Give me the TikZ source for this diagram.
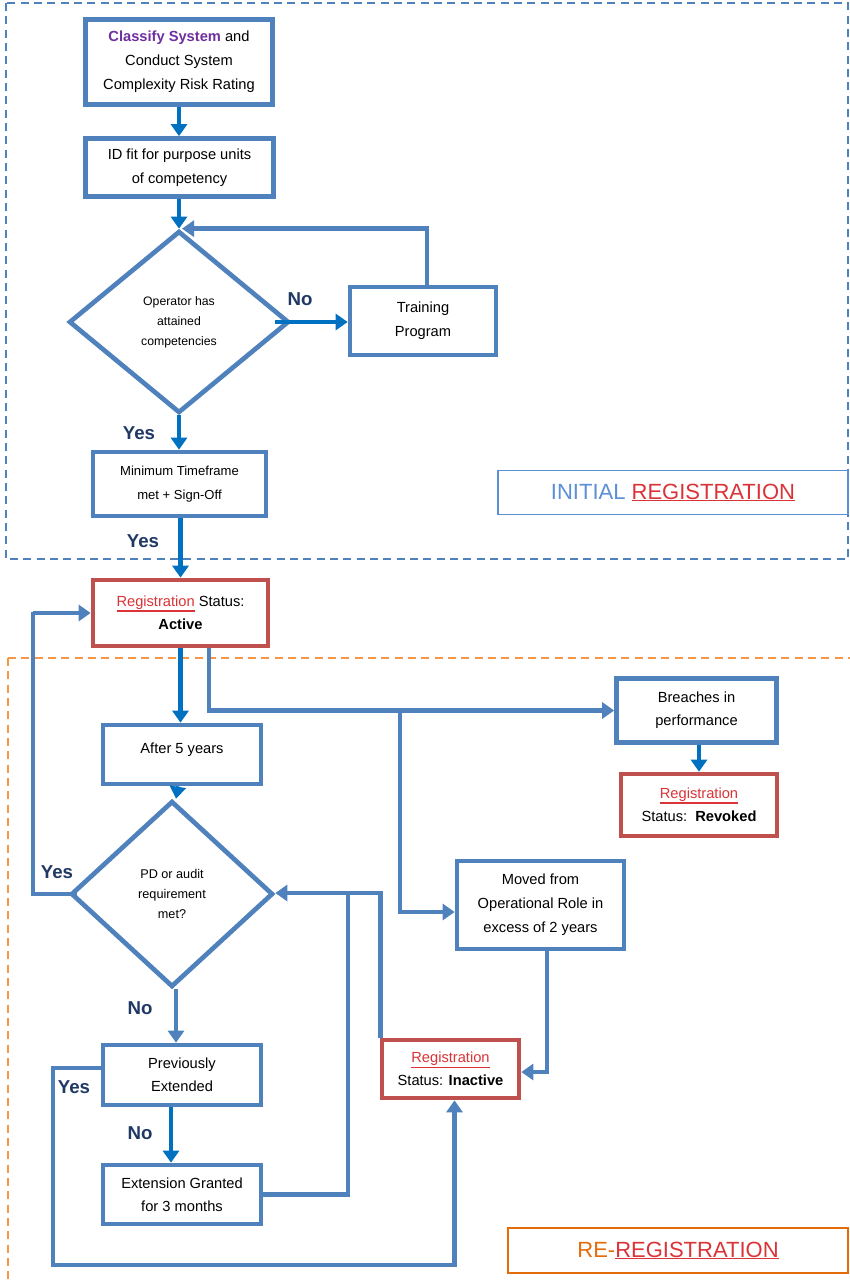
\documentclass[tikz,border=0pt]{standalone}
\usepackage{fontspec}
\setmainfont{Liberation Sans}
\usetikzlibrary{arrows.meta,shapes.geometric}
\definecolor{bxblue}{HTML}{4F81BD}
\definecolor{arblue}{HTML}{0070C0}
\definecolor{navy}{HTML}{1F3864}
\definecolor{bxred}{HTML}{C0504D}
\definecolor{txred}{HTML}{DA3338}
\definecolor{purp}{HTML}{7030A0}
\definecolor{lblue}{HTML}{5B8FD6}
\definecolor{orng}{HTML}{E46C0A}
\definecolor{dorng}{HTML}{F79646}
\newcommand\pxu{0.75pt}
\newcommand\ulred[1]{\textcolor{txred}{\setbox0\hbox{#1}\rlap{\rule[-\dimexpr\dp0+1.5pt\relax]{\wd0}{0.9pt}}\box0}}
\begin{document}
\begin{tikzpicture}[x=0.75pt,y=-0.75pt,
  box/.style={draw=bxblue, line width=3.5pt, fill=white, align=center, inner sep=0pt,
    font=\fontsize{11}{18}\selectfont},
  rbox/.style={box, draw=bxred},
  dia/.style={diamond, draw=bxblue, line width=3.5pt, fill=white, inner sep=0pt, align=center,
    font=\fontsize{9.2}{15}\selectfont},
  tip/.style={-{Triangle[width=12pt,length=9pt]}},
  ar/.style={draw=arblue, line width=3.2pt, tip},
  br/.style={draw=bxblue, line width=3.5pt, tip},
  ln/.style={draw=bxblue, line width=3.5pt},
  lab/.style={text=navy, font=\bfseries\fontsize{14}{16}\selectfont},
  tag/.style={line width=1.2pt, fill=white, inner sep=0pt, font=\fontsize{16.5}{18}\selectfont},
  dsh/.style={line width=1.2pt, dash pattern=on 6pt off 4pt}]
\useasboundingbox (0,0) rectangle (849,1280);
% containers
\draw[dsh, draw=bxblue] (6,3) rectangle (848,559);
\draw[dsh, draw=dorng] (8,658) rectangle (880,1310);
% nodes
\node[box, minimum width=187*\pxu, minimum height=85*\pxu] (b1) at (179,62)
  {\textcolor{purp}{\textbf{Classify System}} and\\Conduct System\\Complexity Risk Rating};
\node[box, minimum width=188*\pxu, minimum height=58*\pxu] (b2) at (179.5,167.5)
  {ID fit for purpose units\\of competency};
\node[dia, minimum width=220*\pxu, minimum height=182*\pxu] (d1) at (179,322)
  {Operator has\\attained\\competencies};
\node[box, minimum width=146*\pxu, minimum height=68*\pxu] (train) at (423,321)
  {Training\\Program};
\node[box, minimum width=173*\pxu, minimum height=64*\pxu, font=\fontsize{9.8}{18.5}\selectfont] (min) at (179.5,484)
  {Minimum Timeframe\\met + Sign-Off};
\node[rbox, minimum width=175*\pxu, minimum height=66*\pxu, font=\fontsize{11}{17.5}\selectfont] (act) at (180.5,613)
  {\ulred{Registration} Status:\\\textbf{Active}};
\node[box, minimum width=158*\pxu, minimum height=59*\pxu] (after) at (182,754.5)
  {\raisebox{9pt}{After 5 years}};
\node[dia, minimum width=202*\pxu, minimum height=186*\pxu, font=\fontsize{9.5}{15}\selectfont] (d2) at (172,894)
  {PD or audit\\requirement\\met?};
\node[box, minimum width=160*\pxu, minimum height=64*\pxu, font=\fontsize{11}{17.5}\selectfont] (breach) at (696.5,710.5)
  {Breaches in\\performance};
\node[rbox, minimum width=156*\pxu, minimum height=62*\pxu, font=\fontsize{11}{17.5}\selectfont] (rev) at (699,805)
  {\ulred{Registration}\\Status:\ \ \textbf{Revoked}};
\node[box, minimum width=167*\pxu, minimum height=88*\pxu] (moved) at (540.5,905)
  {Moved from\\Operational Role in\\excess of 2 years};
\node[rbox, minimum width=137*\pxu, minimum height=58*\pxu, font=\fontsize{11}{17}\selectfont] (inact) at (450.5,1069)
  {\ulred{Registration}\\Status: \textbf{Inactive}};
\node[box, minimum width=158*\pxu, minimum height=60*\pxu, font=\fontsize{11}{17.5}\selectfont] (prev) at (182,1075)
  {Previously\\Extended};
\node[box, minimum width=158*\pxu, minimum height=59*\pxu, font=\fontsize{11}{17.5}\selectfont] (ext) at (182,1194.5)
  {Extension Granted\\for 3 months};
% section tags
\node[tag, draw=lblue, minimum width=350*\pxu, minimum height=44*\pxu] (initlab) at (673,492.5)
  {\textcolor{lblue}{INITIAL} \ulred{REGISTRATION}};
\node[tag, draw=orng, minimum width=340*\pxu, minimum height=45*\pxu] (relab) at (678,1250.5)
  {\textcolor{orng}{RE-}\ulred{REGISTRATION}};
% labels
\node[lab] (ln1) at (300,299) {No};
\node[lab] (ly1) at (139,433) {Yes};
\node[lab] (ly2) at (143,541) {Yes};
\node[lab] (ly3) at (57,872) {Yes};
\node[lab] (ln2) at (140,1008) {No};
\node[lab] (ly4) at (74,1087) {Yes};
\node[lab] (ln3) at (140,1133) {No};
% helper coordinates
\coordinate (j1) at (400,711);
\coordinate (yl) at (33,612);
\coordinate (yb) at (53,1265);
\coordinate (m1) at (348,893);
% connectors
\draw[ar] (b1.south) -- (b1.south |- b2.north);
\draw[ar] (b2.south -| d1.north) -- (d1.north);
\draw[ar] ([xshift=-16*\pxu]d1.east) -- (d1.east -| train.west);
\draw[br] ([xshift=4*\pxu]train.north) |- ([xshift=3*\pxu]d1.north);
\draw[ar] (d1.south) -- (d1.south |- min.north);
\draw[ar] (min.south -| act.north) -- (act.north);
\draw[ar] (act.south) -- (act.south |- after.north);
\draw[br] ([xshift=28.5*\pxu]act.south) |- (breach.west);
\draw[br] (j1) |- ([yshift=-7*\pxu]moved.west);
\draw[ar] (breach.south -| rev.north) -- (rev.north);
\draw[ar] ([xshift=6*\pxu]after.south -| d2.north) -- ([xshift=4*\pxu]d2.north);
\draw[br] ([xshift=8*\pxu]d2.west) -| (yl) |- (act.west);
\draw[br] ([xshift=4*\pxu]d2.south) -- ([xshift=4*\pxu]d2.south |- prev.north);
\draw[ar] ([xshift=-11*\pxu]prev.south) -- ([xshift=-11*\pxu]ext.north);
\draw[br] ([yshift=7*\pxu]prev.west) -| (yb) -| ([xshift=4*\pxu]inact.south);
\draw[br] (ext.east) -| (m1) -- (m1 -| d2.east);
\draw[ln] ([xshift=1*\pxu]inact.north west) |- (m1);
\draw[br] ([xshift=6.5*\pxu]moved.south) |- ([yshift=-3*\pxu]inact.east);
\end{tikzpicture}
\end{document}
